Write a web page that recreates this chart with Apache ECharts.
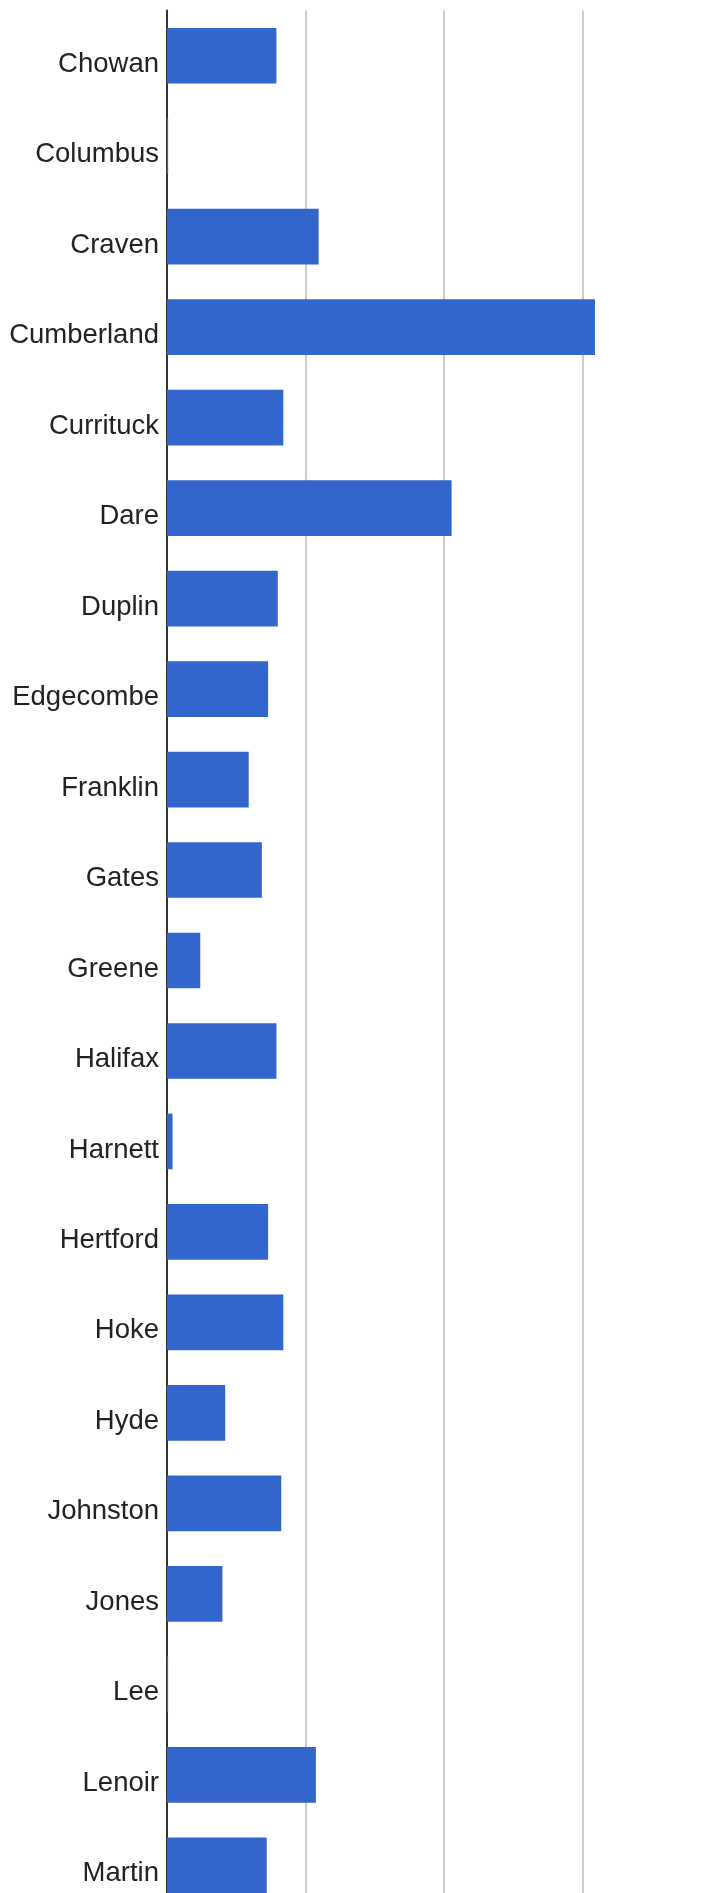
<!DOCTYPE html>
<html>
<head>
<meta charset="utf-8">
<script src="https://cdn.jsdelivr.net/npm/echarts@6/dist/echarts.min.js"></script>
<style>
html,body{margin:0;padding:0;background:#fff;overflow:hidden;width:719px;height:1893px;}
#chart{width:800px;height:2000px;}
</style>
</head>
<body>
<div id="chart"></div>
<script>
var categories = ["Chowan","Columbus","Craven","Cumberland","Currituck","Dare","Duplin","Edgecombe","Franklin","Gates","Greene","Halifax","Harnett","Hertford","Hoke","Hyde","Johnston","Jones","Lee","Lenoir","Martin"];
var values = [0.79,0.008,1.095,3.09,0.84,2.055,0.80,0.73,0.59,0.685,0.24,0.79,0.04,0.73,0.84,0.42,0.825,0.40,0.008,1.075,0.72];

var chart = echarts.init(document.getElementById('chart'), null, {renderer:'canvas'});
chart.setOption({
  animation:false,
  grid:{left:167, top:10.5, width:554, height:1900, containLabel:false},
  xAxis:{
    type:'value', min:0, max:4, interval:1,
    axisLine:{show:false}, axisTick:{show:false}, axisLabel:{show:false},
    splitLine:{show:true, lineStyle:{color:'#cccccc', width:2}}
  },
  yAxis:{
    type:'category', data:categories, inverse:true,
    axisLine:{show:true, lineStyle:{color:'#333333', width:2}},
    axisTick:{show:false},
    axisLabel:{color:'#222222', fontSize:27.5, fontFamily:'"Liberation Sans", Arial, sans-serif', margin:8, verticalAlign:'top', lineHeight:17},
    splitLine:{show:false}
  },
  series:[{
    type:'bar', data:values, barWidth:55.7,
    itemStyle:{color:'#3366cc'}
  }]
});
</script>
</body>
</html>
